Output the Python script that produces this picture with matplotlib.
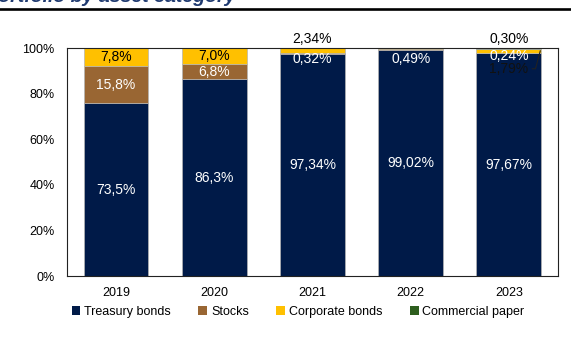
import matplotlib
matplotlib.use("Agg")
import matplotlib.pyplot as plt
from matplotlib.lines import Line2D
from matplotlib.patches import Patch
import numpy as np

plt.rcParams["font.family"] = ["Liberation Sans", "DejaVu Sans"]

years = ["2019", "2020", "2021", "2022", "2023"]
series_names = ["Treasury bonds", "Stocks", "Corporate bonds", "Commercial paper"]
treasury = [73.5, 86.3, 97.34, 99.02, 97.67]
stocks = [15.8, 6.8, 0.32, 0.49, 0.24]
corporate = [7.8, 7.0, 2.34, 0.49, 1.79]
commercial = [0.0, 0.0, 0.0, 0.0, 0.30]
decimals = [1, 1, 2, 2, 2]
colors = ["#001a48", "#996633", "#ffc000", "#2e5e1e"]

# how each value label is placed: None = not shown
label_modes = [
    ["center", "center", "center", None],
    ["center", "center", "center", None],
    ["center", "inside_top", "above", None],
    ["center", "inside_top", None, None],
    ["center", "inside_top_hi", "leader", "above"],
]
top_offsets = {"inside_top": -8, "inside_top_hi": -6, "above": 6.5}

values = np.array([treasury, stocks, corporate, commercial])
shares = values / values.sum(axis=0) * 100  # 100% stacked

fig = plt.figure(figsize=(5.71, 3.40), dpi=100)
ax = fig.add_axes([0.1173, 0.1882, 0.8599, 0.6706])

x = np.arange(len(years))
width = 0.66
bottom = np.zeros(len(years))
for k in range(len(series_names)):
    ax.bar(x, shares[k], width, bottom=bottom, color=colors[k],
           edgecolor="#b4b4b4", linewidth=0.5, label=series_names[k], zorder=2)
    bottom += shares[k]


def fmt(v, d):
    return f"{v:.{d}f}".replace(".", ",") + "%"


fs = 9
lfs = 10
for i in range(len(years)):
    base = 0.0
    for k in range(len(series_names)):
        v = values[k, i]
        s = shares[k, i]
        mode = label_modes[i][k]
        txt = fmt(v, decimals[i])
        if mode == "center":
            tcol = "black" if k == 2 else "white"
            ax.text(x[i], base + s / 2, txt, ha="center", va="center",
                    color=tcol, fontsize=lfs, zorder=3)
        elif mode in ("inside_top", "inside_top_hi"):
            ax.annotate(txt, xy=(x[i], 100), xytext=(0, top_offsets[mode]),
                        textcoords="offset points", ha="center", va="center",
                        color="white", fontsize=lfs, zorder=3)
        elif mode == "above":
            ax.annotate(txt, xy=(x[i], 100), xytext=(0, top_offsets[mode]),
                        textcoords="offset points", ha="center", va="center",
                        color="black", fontsize=lfs, annotation_clip=False, zorder=3)
        elif mode == "leader":
            ax.annotate(txt, xy=(x[i] + width / 2 - 0.01, base + s / 2),
                        xytext=(-23, -13), textcoords="offset points",
                        ha="center", va="center", color="#111111", fontsize=lfs,
                        zorder=3,
                        arrowprops=dict(arrowstyle="-", color="#222222", lw=0.8,
                                        relpos=(1, 0.5), shrinkA=1, shrinkB=0,
                                        connectionstyle="angle,angleA=0,angleB=75,rad=0"))
        base += s

ax.set_xlim(-0.5, len(years) - 0.5)
ax.set_ylim(0, 100)
ax.set_yticks(np.arange(0, 101, 20))
ax.set_yticklabels([f"{v}%" for v in range(0, 101, 20)], fontsize=fs)
ax.set_xticks(x)
ax.set_xticklabels(years, fontsize=fs)
ax.tick_params(length=0)
ax.tick_params(axis="y", pad=9)
ax.tick_params(axis="x", pad=8)
for sp in ax.spines.values():
    sp.set_color("#222222")
    sp.set_linewidth(0.8)

handles = [Patch(facecolor=c, edgecolor="none") for c in colors]
fig.legend(handles, series_names, loc="center", bbox_to_anchor=(0.522, 0.082),
           ncol=4, frameon=False, fontsize=fs, handlelength=0.7, handleheight=0.7,
           handletextpad=0.3, columnspacing=2.2, borderaxespad=0)

# header rule and the clipped heading above it
fig.add_artist(Line2D([0, 1], [1 - 9 / 340, 1 - 9 / 340], color="black", linewidth=1.9))
fig.text(236 / 571, 1 - 2.5 / 340, "Investment portfolio by asset category", ha="right",
         va="baseline", fontsize=14, fontweight="bold", fontstyle="italic",
         color="#1f3a70")

fig.savefig("out.png", dpi=100)
